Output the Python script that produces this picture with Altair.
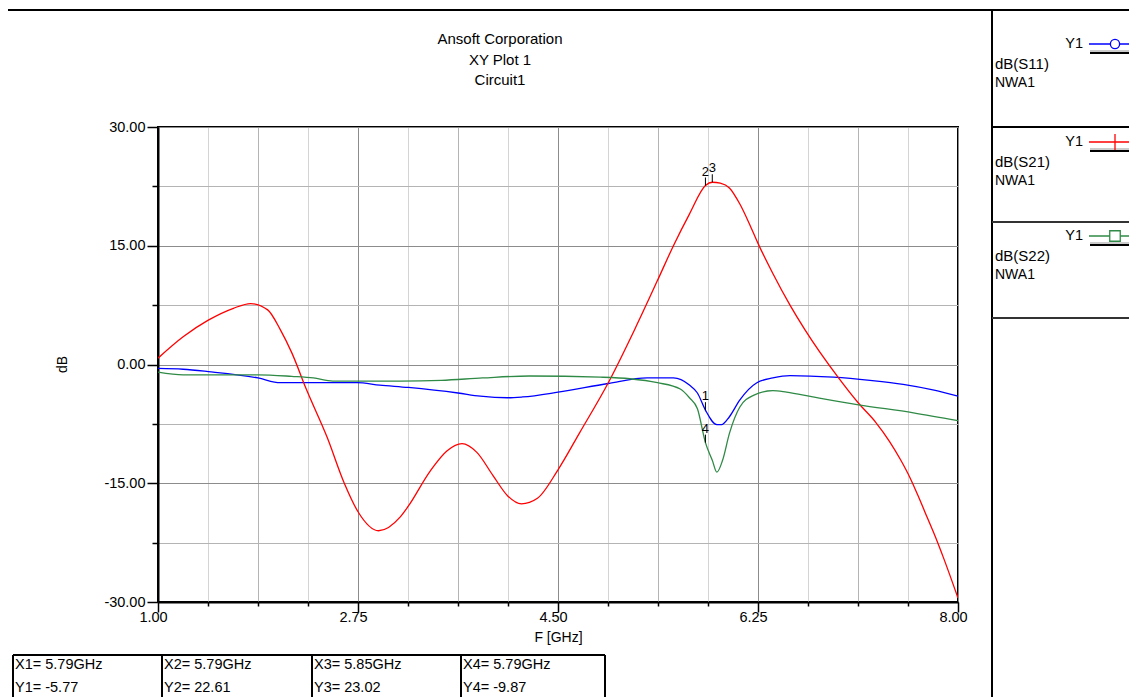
import altair as alt
import pandas as pd

FONT = "Liberation Sans"

# ---------------- data ----------------
series_names = ["dB(S11)", "dB(S21)", "dB(S22)"]
series_colors = ["#0000ff", "#ff0000", "#2f8a46"]
source_name = "NWA1"
trace_label = "Y1"

freq_s11 = [1.00, 1.22, 1.44, 1.875, 2.07, 2.31, 2.74, 2.94, 3.19, 3.625, 3.82, 4.06, 4.19, 4.50,
            4.94, 5.28, 5.51, 5.65, 5.72, 5.79, 5.89, 5.93, 6.00, 6.09, 6.24, 6.38, 6.53, 6.91,
            7.23, 7.52, 7.78, 8.00]
s11 = [-0.5, -0.6, -0.9, -1.7, -2.3, -2.3, -2.3, -2.6, -2.9, -3.6, -4.0, -4.2, -4.1, -3.5,
       -2.4, -1.7, -1.7, -2.6, -3.6, -5.77, -7.6, -7.6, -6.6, -4.5, -2.3, -1.7, -1.4, -1.6,
       -2.0, -2.5, -3.2, -4.0]

freq_s21 = [1.00, 1.22, 1.44, 1.66, 1.81, 1.96, 2.07, 2.17, 2.30, 2.48, 2.63, 2.75, 2.93, 3.12,
            3.19, 3.38, 3.53, 3.66, 3.79, 3.93, 4.06, 4.18, 4.32, 4.50, 4.69, 4.94, 5.17, 5.37,
            5.51, 5.65, 5.79, 5.85, 5.92, 6.00, 6.09, 6.18, 6.25, 6.38, 6.53, 6.66, 6.95, 7.13,
            7.28, 7.40, 7.50, 7.58, 7.66, 7.73, 7.80, 7.87, 8.00]
s21 = [0.8, 3.5, 5.6, 7.1, 7.7, 6.9, 4.4, 1.5, -3.2, -9.2, -15.0, -18.6, -21.0, -19.25,
       -17.9, -13.5, -10.9, -10.0, -11.1, -14.0, -16.6, -17.6, -16.9, -13.3, -8.6, -2.3, 4.4, 10.6,
       15.0, 19.0, 22.61, 23.02, 22.9, 22.3, 20.3, 17.6, 15.3, 11.5, 7.5, 4.4, -1.6, -4.9,
       -7.3, -9.7, -12.1, -14.3, -16.9, -19.3, -21.7, -24.3, -29.5]

freq_s22 = [1.00, 1.22, 1.875, 2.17, 2.36, 2.53, 3.12, 3.48, 3.84, 4.25, 4.87, 5.13, 5.37, 5.57,
            5.65, 5.72, 5.79, 5.85, 5.89, 5.94, 6.00, 6.09, 6.21, 6.38, 6.50, 6.73, 7.13, 7.61, 8.00]
s22 = [-0.95, -1.3, -1.3, -1.5, -1.7, -2.1, -2.1, -2.0, -1.7, -1.45, -1.6, -1.8, -2.3, -3.1,
       -4.2, -5.6, -9.87, -12.1, -13.6, -12.1, -8.7, -5.4, -3.9, -3.3, -3.5, -4.1, -5.1, -6.1, -7.1]

marker_ids = ["1", "2", "3", "4"]
marker_freq = [5.79, 5.79, 5.85, 5.79]
marker_db = [-5.77, 22.61, 23.02, -9.87]

title_lines = ["Ansoft Corporation", "XY Plot 1", "Circuit1"]
x_title = "F [GHz]"
y_title = "dB"

x_ticks = [1 + 0.4375 * i for i in range(17)]
y_ticks = [-30 + 3.75 * i for i in range(17)]

# ---------------- tables ----------------
rows = []
for name, fr, vals in zip(series_names, [freq_s11, freq_s21, freq_s22], [s11, s21, s22]):
    for f, v in zip(fr, vals):
        rows.append({"series": name, "f": f, "dB": v})
df = pd.DataFrame(rows)
df_mk = pd.DataFrame({"id": marker_ids, "f": marker_freq, "dB": marker_db})
one = pd.DataFrame({"k": [0]})

X_MAJ = "abs((datum.value-1)/1.75 - round((datum.value-1)/1.75)) < 0.01"
X_MED = "abs((datum.value-1)/0.875 - round((datum.value-1)/0.875)) < 0.01"
Y_MAJ = "abs(datum.value/15 - round(datum.value/15)) < 0.01"
Y_MED = "abs(datum.value/7.5 - round(datum.value/7.5)) < 0.01"

GRID_DARK, GRID_MED, GRID_LIGHT = "#8c8c8c", "#b4b4b4", "#d4d4d4"

x_scale = alt.Scale(domain=[1, 8], nice=False, zero=False)
y_scale = alt.Scale(domain=[-30, 30], nice=False, zero=False)

FMT = "replace(format(datum.value, '.2f'), '\u2212', '-')"

x_axis = alt.Axis(
    values=x_ticks, title=x_title,
    labelExpr=f"{X_MAJ} ? {FMT} : ''",
    labelFlush=False, labelOverlap=False, labelBound=False,
    labelFont=FONT, labelFontSize=14.5, labelColor="black", labelPadding=-2, labelOffset=-5,
    grid=True, gridWidth=1,
    gridColor={"condition": [{"test": X_MAJ, "value": GRID_DARK},
                             {"test": X_MED, "value": GRID_MED}], "value": GRID_LIGHT},
    tickSize={"condition": {"test": X_MAJ, "value": 10}, "value": 4},
    tickColor="black", tickWidth=1.5,
    domainColor="black", domainWidth=2,
    titleFont=FONT, titleFontSize=14, titleFontWeight="normal", titleColor="black",
    titleX=400, titleY=35, titleBaseline="middle", titleAlign="center",
)
y_axis = alt.Axis(
    values=y_ticks, title=y_title,
    labelExpr=f"{Y_MAJ} ? {FMT} : ''",
    labelFlush=False, labelOverlap=False, labelBound=False,
    labelFont=FONT, labelFontSize=14.5, labelColor="black", labelPadding=2,
    grid=True, gridWidth=1,
    gridColor={"condition": [{"test": Y_MAJ, "value": GRID_DARK},
                             {"test": Y_MED, "value": GRID_MED}], "value": GRID_LIGHT},
    tickSize={"condition": {"test": Y_MAJ, "value": 11}, "value": 6},
    tickColor="black", tickWidth=1.5,
    domainColor="black", domainWidth=2,
    titleFont=FONT, titleFontSize=14, titleFontWeight="normal", titleColor="black",
    titleX=-96, titleY=237, titleAngle=270, titleBaseline="middle", titleAlign="center",
)

lines = alt.Chart(df).mark_line(strokeWidth=1.3, interpolate="monotone", clip=True).encode(
    x=alt.X("f:Q", scale=x_scale, axis=x_axis),
    y=alt.Y("dB:Q", scale=y_scale, axis=y_axis),
    color=alt.Color("series:N", scale=alt.Scale(domain=series_names, range=series_colors), legend=None),
    detail="series:N",
)

mk_ticks = alt.Chart(df_mk).mark_rule(color="black", strokeWidth=1, y2Offset=-8).encode(
    x="f:Q", y="dB:Q", y2="dB:Q")
mk_text = alt.Chart(df_mk).mark_text(font=FONT, fontSize=13, color="black", baseline="bottom",
                                     align="center", dy=-7).encode(
    x="f:Q", y="dB:Q", text="id:N")

layers = [lines, mk_ticks, mk_text]


def rule(x1, x2, y1, y2, color="black", w=2):
    return alt.Chart(one).mark_rule(color=color, strokeWidth=w).encode(
        x=alt.value(x1), x2=alt.value(x2), y=alt.value(y1), y2=alt.value(y2))


def text(t, x, y, align="left", size=14.5):
    return alt.Chart(one).mark_text(font=FONT, fontSize=size, color="black", align=align,
                                    baseline="middle").encode(
        x=alt.value(x), y=alt.value(y), text=alt.value(t))


# outer frame (relative to plot origin)
layers += [rule(-151, -151, -117, 575), rule(-151, 985, -117, -117),
           rule(834, 834, -117, 575)]
# right panel separators
layers += [rule(834, 985, 0, 0), rule(834, 985, 95, 95, "#333333"),
           rule(834, 985, 191, 191, "#333333")]

# titles
for t, yy in zip(title_lines, [-88, -67, -47]):
    layers.append(text(t, 342, yy, align="center", size=15))

# legend panel
leg_y1 = [-83, 15, 109]
for i, (name, col) in enumerate(zip(series_names, series_colors)):
    ly = leg_y1[i]
    layers.append(text(trace_label, 925, ly, align="right"))
    layers.append(rule(931, 985, ly, ly, col, 1.3))
    layers.append(rule(932, 985, ly + 7, ly + 7, "#999999", 1))
    layers.append(rule(932, 985, ly + 9, ly + 9, "black", 2))
    layers.append(text(name, 837, ly + 20, size=15))
    layers.append(text(source_name, 837, ly + 39, size=14))

# legend symbols
layers.append(alt.Chart(one).mark_point(shape="circle", size=85, filled=True, fill="white",
                                        stroke=series_colors[0], strokeWidth=1.3, opacity=1).encode(
    x=alt.value(957), y=alt.value(leg_y1[0])))
layers.append(rule(957, 957, leg_y1[1] - 8, leg_y1[1] + 8, series_colors[1], 1.3))
layers.append(alt.Chart(one).mark_point(shape="square", size=110, filled=True, fill="white",
                                        stroke=series_colors[2], strokeWidth=1.3, opacity=1).encode(
    x=alt.value(957), y=alt.value(leg_y1[2])))

# marker table
col_x = [-145, 4, 154, 303, 447]
layers.append(rule(col_x[0], col_x[-1], 528, 528))
for cx in col_x:
    layers.append(rule(cx, cx, 528, 575))
for i, (mid, mf, mv) in enumerate(zip(marker_ids, marker_freq, marker_db)):
    layers.append(text(f"X{mid}= {mf:.2f}GHz", col_x[i] + 2, 538))
    layers.append(text(f"Y{mid}= {mv:.2f}", col_x[i] + 2, 561))

chart = alt.layer(*layers).properties(
    width=800, height=475,
    autosize=alt.AutoSizeParams(type="none"),
    padding={"left": 150, "top": 119, "right": 171, "bottom": 95},
    background="white",
).configure_view(stroke="black", strokeWidth=2)

chart.save("out.html", embed_options={"renderer": "svg", "actions": False})
